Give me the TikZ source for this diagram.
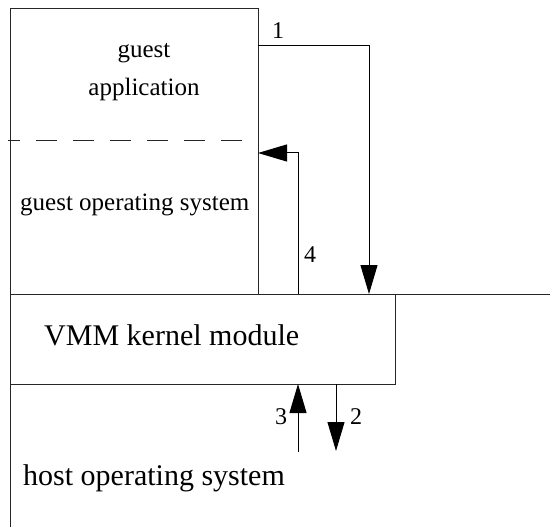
\documentclass[tikz,border=0pt]{standalone}
\usepackage{fontspec}
\setmainfont{Liberation Serif}
\usetikzlibrary{arrows.meta}
\begin{document}
\begin{tikzpicture}[x=1pt,y=-1pt,
  boxline/.style={draw=black!85, line width=1pt},
  conn/.style={draw=black, line width=1pt, -{Triangle[length=29pt,width=17pt]}},
  lbl/.style={inner sep=0pt, anchor=base, font=\fontsize{24}{28}\selectfont},
  gtxt/.style={inner sep=0pt, font=\fontsize{25}{30}\selectfont},
  btxt/.style={inner sep=0pt, anchor=base west, font=\fontsize{30}{36}\selectfont}]
\useasboundingbox (0,0) rectangle (550,527);
% guest box
\coordinate (gTL) at (10,9);
\coordinate (gBR) at (258,294);
\draw[boxline] (gTL) rectangle (gBR);
\coordinate (dL) at (8,141);
\coordinate (dR) at (258,141);
\draw[boxline, dash pattern=on 21pt off 16pt, dash phase=9pt] (dL) -- (dR);
\node[gtxt, anchor=base] (ga1) at (144,58) {guest};
\node[gtxt, anchor=base] (ga2) at (144,96) {application};
\node[gtxt, anchor=base west] (gos) at (20,211) {guest operating system};
% VMM box
\coordinate (vTL) at (10,294);
\coordinate (vBR) at (395,384);
\draw[boxline] (vTL) rectangle (vBR);
\node[btxt] (vmm) at (44,345) {VMM kernel module};
% host
\coordinate (hTR) at (550,294);
\coordinate (hBL) at (10,527);
\draw[boxline] (hBL) -- (10,294) -- (hTR);
\node[btxt] (host) at (23,485) {host operating system};
% arrow 1
\coordinate (a1s) at (258,46);
\coordinate (a1e) at (369,294);
\draw[conn] (a1s) -| (a1e);
\node[lbl] (l1) at (278,39) {1};
% arrow 4
\coordinate (a4s) at (298,294);
\coordinate (a4e) at (258,153);
\draw[conn] (a4s) |- (a4e);
\node[lbl] (l4) at (310,262) {4};
% arrow 3
\coordinate (a3s) at (298,452);
\coordinate (a3e) at (298,384);
\draw[conn] (a3s) -- (a3e);
\node[lbl] (l3) at (281,424) {3};
% arrow 2
\coordinate (a2s) at (336,384);
\coordinate (a2e) at (336,451);
\draw[conn] (a2s) -- (a2e);
\node[lbl] (l2) at (356,424) {2};
\end{tikzpicture}
\end{document}
